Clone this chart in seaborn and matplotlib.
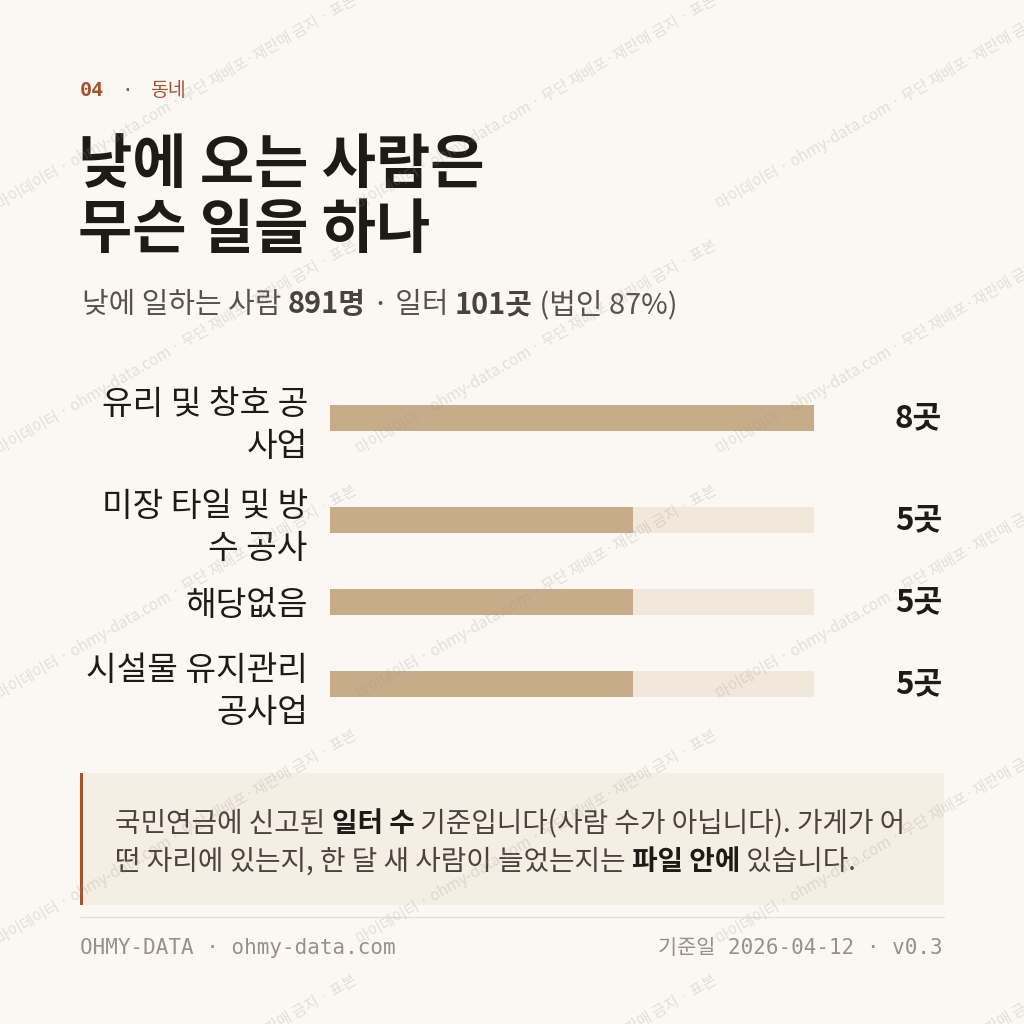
import matplotlib
matplotlib.use("Agg")
import matplotlib.pyplot as plt
import seaborn as sns
import pandas as pd
from matplotlib.patches import Rectangle
from matplotlib.lines import Line2D

# ---------------- data ----------------
categories = ["유리 및 창호 공\n사업", "미장 타일 및 방\n수 공사", "해당없음", "시설물 유지관리\n공사업"]
counts = [8, 5, 5, 5]
unit = "곳"
eyebrow_num = "04"
eyebrow_txt = "동네"
title_lines = ["낮에 오는 사람은", "무슨 일을 하나"]
subtitle_runs = [("낮에 일하는 사람 ", "normal"), ("891명", "bold"), (" · 일터 ", "normal"),
                 ("101곳", "bold"), (" (법인 87%)", "normal")]
note_line1 = [("국민연금에 신고된 ", "normal"), ("일터 수", "bold"),
              (" 기준입니다(사람 수가 아닙니다). 가게가 어", "normal")]
note_line2 = [("떤 자리에 있는지, 한 달 새 사람이 늘었는지는 ", "normal"), ("파일 안에", "bold"),
              (" 있습니다.", "normal")]
footer_left = "OHMY-DATA · ohmy-data.com"
footer_right = "기준일 2026-04-12 · v0.3"
watermark = "마이데이터 · ohmy-data.com · 무단 재배포·재판매 금지 · 표본"

# ---------------- style ----------------
BG = "#FBF8F3"
RUST = "#A5522F"
INK = "#1E1A16"
SUB = "#5A5149"
BAR = "#C8AC8A"
TRACK = "#F1E8DB"
NOTE_BG = "#F5EEE4"
NOTE_TXT = "#4A423B"
FOOT = "#9A9088"
KFONT = ["Noto Sans CJK KR", "DejaVu Sans"]
MONO = ["DejaVu Sans Mono", "Noto Sans CJK KR"]

sns.set_theme(style="white")
plt.rcParams["font.family"] = KFONT
plt.rcParams["axes.unicode_minus"] = False

W = 1024
fig = plt.figure(figsize=(10.24, 10.24), dpi=100, facecolor=BG)
renderer = fig.canvas.get_renderer()


def fx(x):
    return x / W


def fy(y):
    return 1 - y / W


def text_width(s, **kw):
    t = fig.text(0, 0, "|" + s + "|", **kw)
    w1 = t.get_window_extent(renderer).width
    t.remove()
    t = fig.text(0, 0, "||", **kw)
    w0 = t.get_window_extent(renderer).width
    t.remove()
    return w1 - w0


def draw_runs(x_px, y_px, runs, size, c_norm, c_bold, family=KFONT):
    x = x_px
    for s, weight in runs:
        c = c_bold if weight == "bold" else c_norm
        fig.text(fx(x), fy(y_px), s, fontsize=size, fontweight=weight, color=c,
                 va="baseline", ha="left", family=family)
        x += text_width(s, fontsize=size, fontweight=weight, family=family)


# ---------------- header ----------------
fig.text(fx(80), fy(96), eyebrow_num, fontsize=14.5, fontweight="bold", color=RUST,
         family=MONO, va="baseline")
fig.text(fx(127), fy(96), "·", fontsize=14, color=RUST, family=MONO, va="baseline", ha="center")
fig.text(fx(150), fy(96), eyebrow_txt, fontsize=14, color=RUST, family=KFONT, va="baseline")

fig.text(fx(78), fy(183), title_lines[0], fontsize=42.5, fontweight="bold", color=INK, va="baseline")
fig.text(fx(78), fy(248), title_lines[1], fontsize=42.5, fontweight="bold", color=INK, va="baseline")

draw_runs(82, 313, subtitle_runs, 20.8, SUB, "#4A423B")

# ---------------- bars ----------------
vmax = max(counts)
bar_px = 26
top = 367
left_px, width_px = 330, 484
for cat, val in zip(categories, counts):
    nlines = cat.count("\n") + 1
    h = 40 * nlines + 22
    ax = fig.add_axes([fx(left_px), fy(top + h), width_px / W, h / W])
    ax.set_facecolor("none")
    d_track = pd.DataFrame({"cat": [cat], "v": [vmax]})
    d_val = pd.DataFrame({"cat": [cat], "v": [val]})
    sns.barplot(data=d_track, x="v", y="cat", color=TRACK, width=0.8, ax=ax,
                orient="h", saturation=1, linewidth=0)
    sns.barplot(data=d_val, x="v", y="cat", color=BAR, width=0.8, ax=ax,
                orient="h", saturation=1, linewidth=0)
    half = (h / 2) * 0.8 / bar_px
    ax.set_ylim(half, -half)
    ax.set_xlim(0, vmax)
    ax.set_xlabel("")
    ax.set_ylabel("")
    ax.set_xticks([])
    for s in ax.spines.values():
        s.set_visible(False)
    ax.tick_params(axis="y", length=0, pad=16, labelsize=24, labelcolor=INK)
    for t in ax.get_yticklabels():
        t.set_linespacing(1.25)
    ax.text((942 - left_px) / width_px, 0, f"{val}{unit}", transform=ax.get_yaxis_transform(),
            ha="right", va="center", fontsize=22.5, fontweight="bold", color=INK)
    top += h

# ---------------- note box ----------------
fig.add_artist(Rectangle((fx(80), fy(905)), (944 - 80) / W, (905 - 773) / W,
                         transform=fig.transFigure, facecolor=NOTE_BG, edgecolor="none", zorder=0))
fig.add_artist(Rectangle((fx(80), fy(905)), 3 / W, (905 - 773) / W,
                         transform=fig.transFigure, facecolor=RUST, edgecolor="none", zorder=0.5))
draw_runs(115, 832, note_line1, 20, NOTE_TXT, INK)
draw_runs(115, 870, note_line2, 20, NOTE_TXT, INK)

# ---------------- footer ----------------
fig.add_artist(Line2D([fx(80), fx(944)], [fy(917), fy(917)], color="#E6DFD4", lw=1,
                      transform=fig.transFigure))
fig.text(fx(80), fy(954), footer_left, fontsize=15, color=FOOT, family=MONO, va="baseline")
fig.text(fx(943), fy(954), footer_right, fontsize=15, color=FOOT, family=MONO, va="baseline",
         ha="right")

# ---------------- watermark ----------------
for yy in [210, 455, 700, 945, 1190]:
    for xx in [0, 360, 720]:
        fig.text(fx(xx), fy(yy), watermark, fontsize=11, color="#9C948C", alpha=0.26,
                 rotation=30, rotation_mode="anchor", ha="left", va="baseline", zorder=10)

fig.savefig("out.png", dpi=100, facecolor=BG)
